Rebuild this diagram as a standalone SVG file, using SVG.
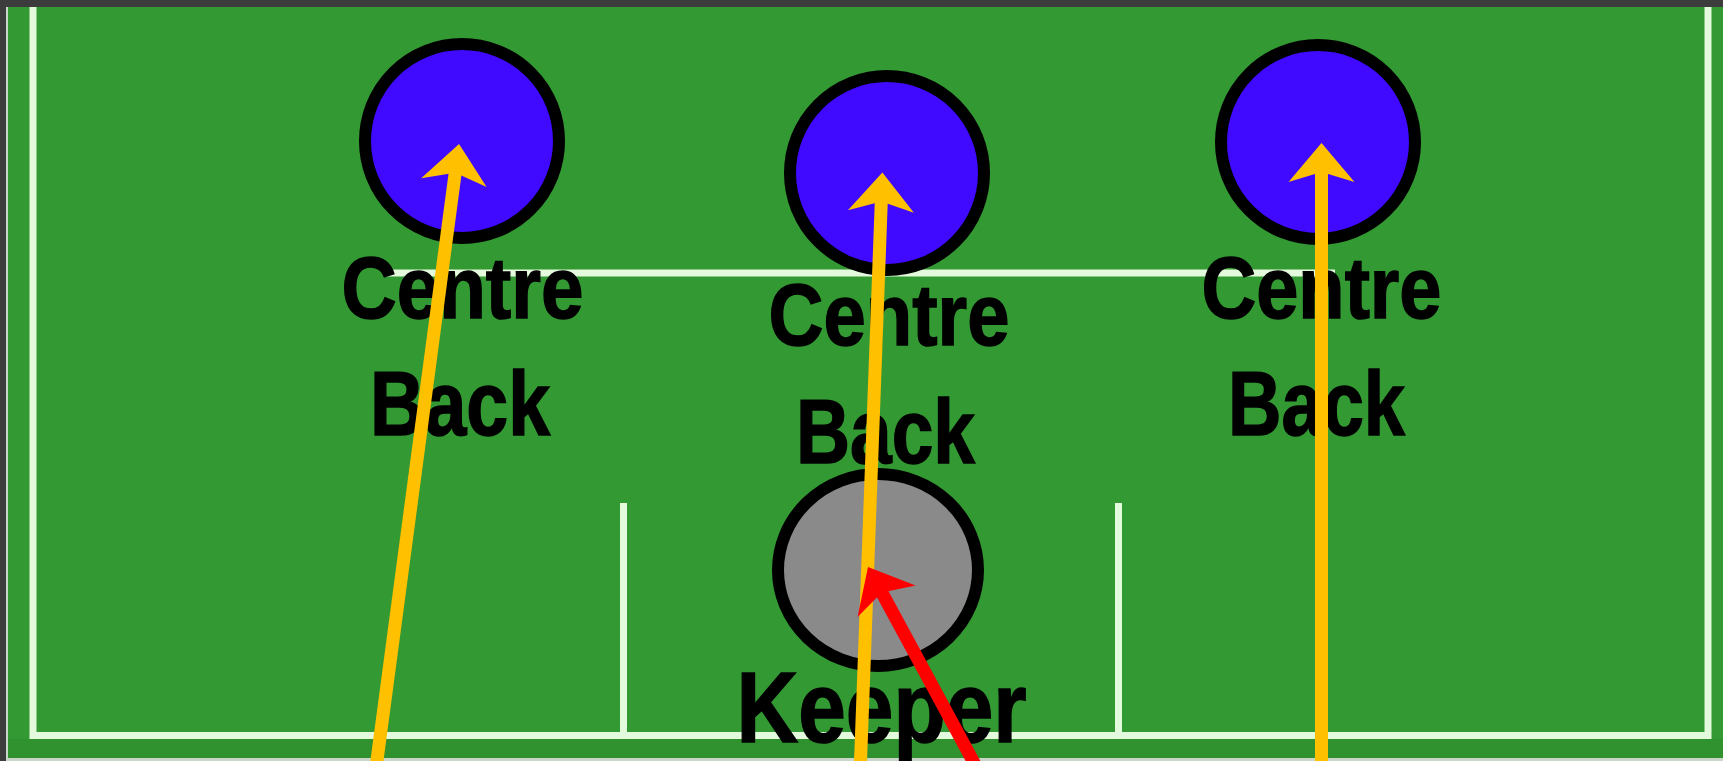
<svg xmlns="http://www.w3.org/2000/svg" width="1723" height="761" viewBox="0 0 1723 761">
  <style>
    .pitch-line { fill: none; stroke: #e4fadc; stroke-width: 7; stroke-linejoin: miter; }
    .back { fill: #3f0aff; stroke: #000; stroke-width: 12; }
    .gk { fill: #8a8a8a; stroke: #000; stroke-width: 12; }
    .lbl { font-family: "Liberation Sans", Arial, sans-serif; font-weight: bold; fill: #000; stroke: #000; stroke-width: 1.5; text-anchor: middle; }
    .arrow-y { stroke: #ffc000; stroke-width: 13; fill: none; marker-end: url(#headY); }
    .arrow-r { stroke: #ff0000; stroke-width: 13; fill: none; marker-end: url(#headR); }
  </style>
  <defs>
    <marker id="headY" markerUnits="userSpaceOnUse" orient="auto" refX="0" refY="0" markerWidth="80" markerHeight="80" overflow="visible">
      <path d="M26,0 L-13,-33 L-3,0 L-13,33 Z" fill="#ffc000"/>
    </marker>
    <marker id="headR" markerUnits="userSpaceOnUse" orient="auto" refX="0" refY="0" markerWidth="80" markerHeight="80" overflow="visible">
      <path d="M26,0 L-13,-33 L-3,0 L-13,33 Z" fill="#ff0000"/>
    </marker>
  </defs>

  <!-- frame and pitch -->
  <rect x="0" y="0" width="1723" height="761" fill="#3c3c3c"/>
  <rect x="6" y="7" width="1717" height="754" fill="#c9d6c9"/>
  <rect x="8" y="7" width="1715" height="751" fill="#339933"/>
  <rect x="8" y="739" width="1715" height="19" fill="#2f922f"/>

  <!-- pitch markings -->
  <polyline class="pitch-line" points="33,7 33,735.5 1708,735.5 1708,7"/>
  <line class="pitch-line" x1="385" y1="273" x2="1335" y2="273"/>
  <line class="pitch-line" x1="623.5" y1="503" x2="623.5" y2="735" stroke-width="6"/>
  <line class="pitch-line" x1="1118.5" y1="503" x2="1118.5" y2="735" stroke-width="6"/>

  <!-- nodes -->
  <g id="centre-back-left">
    <circle class="back" cx="462" cy="141" r="97"/>
    <text class="lbl" x="462.5" y="318" font-size="88" textLength="242" lengthAdjust="spacingAndGlyphs">Centre</text>
    <text class="lbl" x="460" y="435" font-size="90" textLength="180" lengthAdjust="spacingAndGlyphs">Back</text>
  </g>
  <g id="centre-back-middle">
    <circle class="back" cx="887" cy="173" r="97"/>
    <text class="lbl" x="889" y="345" font-size="88" textLength="241" lengthAdjust="spacingAndGlyphs">Centre</text>
    <text class="lbl" x="885.5" y="463" font-size="90" textLength="179" lengthAdjust="spacingAndGlyphs">Back</text>
  </g>
  <g id="centre-back-right">
    <circle class="back" cx="1318" cy="142" r="97"/>
    <text class="lbl" x="1321.5" y="318" font-size="88" textLength="240" lengthAdjust="spacingAndGlyphs">Centre</text>
    <text class="lbl" x="1316.5" y="435" font-size="90" textLength="177" lengthAdjust="spacingAndGlyphs">Back</text>
  </g>
  <g id="keeper">
    <ellipse class="gk" cx="878" cy="570" rx="100" ry="96"/>
    <text class="lbl" x="881.5" y="742" font-size="100" textLength="290" lengthAdjust="spacingAndGlyphs">Keeper</text>
  </g>

  <!-- connectors -->
  <g id="connectors">
    <line class="arrow-y" x1="375.7" y1="770" x2="455.6" y2="169.8"/>
    <line class="arrow-y" x1="860.2" y1="770" x2="881.4" y2="198.5"/>
    <line class="arrow-y" x1="1321.5" y1="770" x2="1321.5" y2="169"/>
    <line class="arrow-r" x1="977.9" y1="770" x2="880.4" y2="589.9"/>
  </g>
</svg>
